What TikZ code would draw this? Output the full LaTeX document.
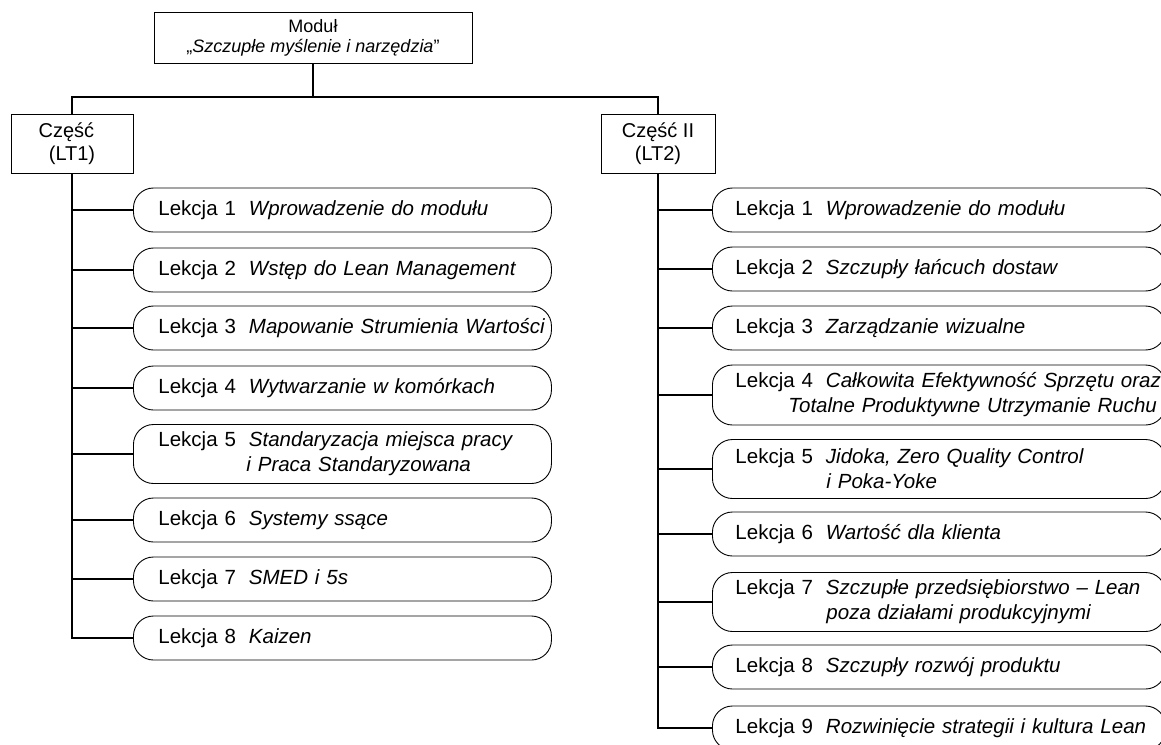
\documentclass[tikz,border=0pt]{standalone}
\usepackage{fontspec}
\setmainfont{Liberation Sans}

\begin{document}
\begin{tikzpicture}[
    x=1pt, y=-1pt,
    font=\fontsize{20.5}{25}\selectfont,
    modbox/.style={rectangle, draw, line width=0.9pt, minimum width=318pt, minimum height=51pt, align=center, inner sep=0pt, font=\fontsize{18}{20}\selectfont},
    partbox/.style={rectangle, draw, line width=0.9pt, minimum height=59pt, align=center, inner sep=0pt, font=\fontsize{20}{23}\selectfont},
    lesson/.style={rectangle, draw, rounded corners=20pt, line width=0.9pt, anchor=west, align=left, minimum height=44pt, inner ysep=0pt},
    lessonL/.style={lesson, text width=368pt, inner xsep=25pt},
    lessonR/.style={lesson, text width=407pt, inner xsep=23pt},
    tall/.style={minimum height=59pt},
    conn/.style={line width=1.8pt}
  ]
  \useasboundingbox (0,0) rectangle (1161,744);

  % module and its two parts
  \node[modbox] (mod) at (313,37.5) {Moduł\\„\textit{Szczupłe myślenie i narzędzia}”};
  \node[partbox, minimum width=122pt] (p1) at (72,143.5) {Część\phantom{ I}\\(LT1)};
  \node[partbox, minimum width=114pt] (p2) at (658,143.5) {Część II\\(LT2)};
  \coordinate (hub) at (313,97);

  % part I
  \node[lessonL] (l1) at (133,210) {\mbox{Lekcja 1\hspace{13pt}\textit{Wprowadzenie do modułu}}};
  \node[lessonL] (l2) at (133,270) {\mbox{Lekcja 2\hspace{13pt}\textit{Wstęp do Lean Management}}};
  \node[lessonL] (l3) at (133,328) {\mbox{Lekcja 3\hspace{13pt}\textit{Mapowanie Strumienia Wartości}}};
  \node[lessonL] (l4) at (133,388) {\mbox{Lekcja 4\hspace{13pt}\textit{Wytwarzanie w komórkach}}};
  \node[lessonL, tall] (l5) at (133,454) {\mbox{Lekcja 5\hspace{13pt}\textit{Standaryzacja miejsca pracy}}\\\hspace*{88pt}\textit{i Praca Standaryzowana}};
  \node[lessonL] (l6) at (133,520) {\mbox{Lekcja 6\hspace{13pt}\textit{Systemy ssące}}};
  \node[lessonL] (l7) at (133,579) {\mbox{Lekcja 7\hspace{13pt}\textit{SMED i 5s}}};
  \node[lessonL] (l8) at (133,638) {\mbox{Lekcja 8\hspace{13pt}\textit{Kaizen}}};

  % part II
  \node[lessonR] (r1) at (712,210) {\mbox{Lekcja 1\hspace{13pt}\textit{Wprowadzenie do modułu}}};
  \node[lessonR] (r2) at (712,269) {\mbox{Lekcja 2\hspace{13pt}\textit{Szczupły łańcuch dostaw}}};
  \node[lessonR] (r3) at (712,328) {\mbox{Lekcja 3\hspace{13pt}\textit{Zarządzanie wizualne}}};
  \node[lessonR, minimum height=60pt] (r4) at (712,395) {\mbox{Lekcja 4\hspace{13pt}\textit{Całkowita Efektywność Sprzętu oraz}}\\\mbox{\hspace*{53pt}\textit{Totalne Produktywne Utrzymanie Ruchu}}};
  \node[lessonR, tall] (r5) at (712,469) {\mbox{Lekcja 5\hspace{13pt}\textit{Jidoka, Zero Quality Control}}\\\hspace*{91pt}\textit{i Poka-Yoke}};
  \node[lessonR] (r6) at (712,534) {\mbox{Lekcja 6\hspace{13pt}\textit{Wartość dla klienta}}};
  \node[lessonR, tall] (r7) at (712,602) {\mbox{Lekcja 7\hspace{13pt}\textit{Szczupłe przedsiębiorstwo – Lean}}\\\hspace*{91pt}\textit{poza działami produkcyjnymi}};
  \node[lessonR] (r8) at (712,667) {\mbox{Lekcja 8\hspace{13pt}\textit{Szczupły rozwój produktu}}};
  \node[lessonR] (r9) at (712,728) {\mbox{Lekcja 9\hspace{13pt}\textit{Rozwinięcie strategii i kultura Lean}}};

  % connectors
  \draw[conn] (mod.south) -- (hub);
  \draw[conn] (hub) -| (p1.north);
  \draw[conn] (hub) -| (p2.north);
  \foreach \n in {l1,l2,l3,l4,l5,l6,l7,l8}
    \draw[conn] (p1.south) |- (\n.west);
  \foreach \n in {r1,r2,r3,r4,r5,r6,r7,r8,r9}
    \draw[conn] (p2.south) |- (\n.west);
\end{tikzpicture}
\end{document}
